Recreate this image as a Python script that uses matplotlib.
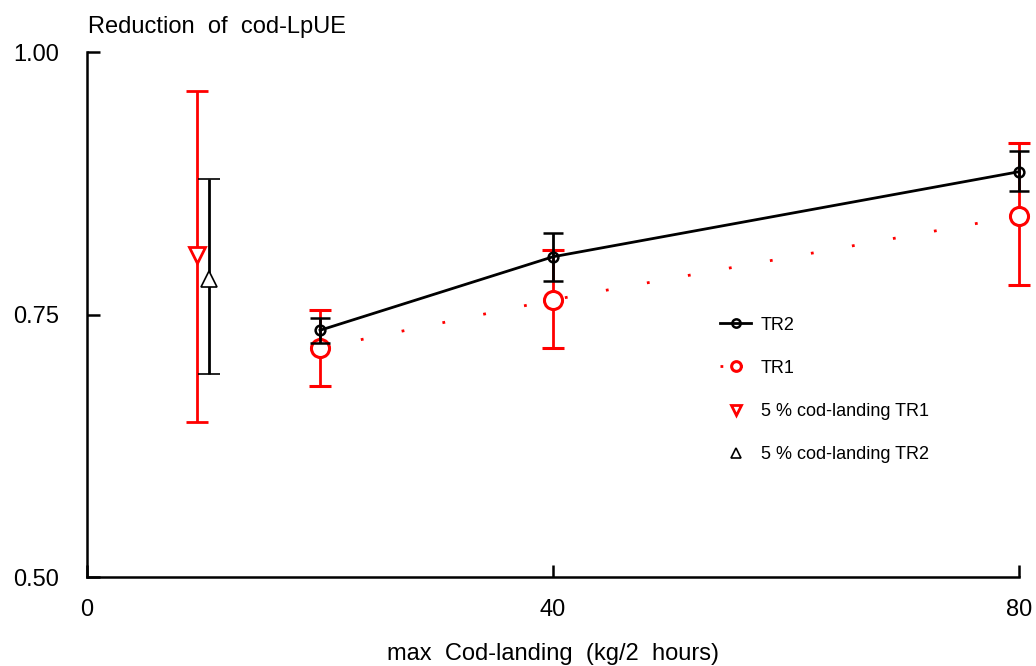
import matplotlib
matplotlib.use('Agg')
import matplotlib.pyplot as plt
from matplotlib.lines import Line2D

plt.rcParams['font.family'] = ['Liberation Sans', 'DejaVu Sans']

# data
landing = [20, 40, 80]
tr2 = [0.735, 0.805, 0.886]
tr2_lo = [0.723, 0.782, 0.868]
tr2_hi = [0.747, 0.828, 0.906]
tr1 = [0.718, 0.764, 0.844]
tr1_lo = [0.682, 0.718, 0.778]
tr1_hi = [0.754, 0.811, 0.913]

# 5 % cod-landing reference points (slightly offset on x)
x5_tr1 = [9.4]
y5_tr1 = [0.807]
y5_tr1_lo = [0.648]
y5_tr1_hi = [0.963]
x5_tr2 = [10.5]
y5_tr2 = [0.784]
y5_tr2_lo = [0.693]
y5_tr2_hi = [0.879]

xticks = [0, 40, 80]
yticks = [0.50, 0.75, 1.00]


def err(y, lo, hi):
    return [[a - b for a, b in zip(y, lo)], [b - a for a, b in zip(y, hi)]]


fig = plt.figure(figsize=(10.36, 6.66), dpi=100)
ax = fig.add_axes([0.084, 0.1336, 0.8996, 0.7883])

ax.errorbar(x5_tr1, y5_tr1, yerr=err(y5_tr1, y5_tr1_lo, y5_tr1_hi),
            fmt='v', color='red', mfc='white', mec='red', ms=11, mew=2,
            ecolor='red', elinewidth=2, capsize=8, capthick=2,
            clip_on=False, zorder=3)
ax.errorbar(x5_tr2, y5_tr2, yerr=err(y5_tr2, y5_tr2_lo, y5_tr2_hi),
            fmt='^', color='black', mfc='white', mec='black', ms=11, mew=1.2,
            ecolor='black', elinewidth=2, capsize=8, capthick=2,
            clip_on=False, zorder=3)

ax.errorbar(landing, tr2, yerr=err(tr2, tr2_lo, tr2_hi),
            fmt='-o', color='black', mfc='none', mec='black', ms=7, mew=1.8,
            lw=2, ecolor='black', elinewidth=2, capsize=7, capthick=2,
            clip_on=False, zorder=4)
ax.errorbar(landing, tr1, yerr=err(tr1, tr1_lo, tr1_hi),
            fmt='o', color='red', mfc='white', mec='red', ms=13, mew=2.2,
            ecolor='red', elinewidth=2, capsize=8, capthick=2,
            clip_on=False, zorder=3)
ax.plot(landing, tr1, color='red', lw=2, linestyle=(0, (1, 14)), zorder=2)

# legend proxies (markers only, like the reference)
h_tr2 = Line2D([], [], color='black', lw=2, marker='o', mfc='none',
               mec='black', ms=6, mew=1.8)
h_tr1 = Line2D([], [], color='red', lw=2, linestyle=(0, (1, 6)),
               marker='o', mfc='white', mec='red', ms=7, mew=2.2)
h_5tr1 = Line2D([], [], ls='none', marker='v', mfc='white', mec='red',
                ms=7, mew=2)
h_5tr2 = Line2D([], [], ls='none', marker='^', mfc='white', mec='black',
                ms=7, mew=1.2)
ax.legend([h_tr2, h_tr1, h_5tr1, h_5tr2],
          ['TR2', 'TR1', '5 % cod-landing TR1', '5 % cod-landing TR2'],
          loc='upper left', bbox_to_anchor=(0.662, 0.527),
          frameon=False, fontsize=13, labelspacing=1.45,
          handlelength=1.7, handletextpad=0.55)

ax.set_xlim(0, 80)
ax.set_ylim(0.5, 1.0)
ax.set_xticks(xticks)
ax.set_yticks(yticks)
ax.set_yticklabels(['%.2f' % v for v in yticks])
ax.tick_params(direction='in', length=9, width=1.8, labelsize=17)
ax.tick_params(axis='x', pad=16)
ax.tick_params(axis='y', pad=20)
for s in ['top', 'right']:
    ax.spines[s].set_visible(False)
for s in ['left', 'bottom']:
    ax.spines[s].set_linewidth(1.8)

ax.set_xlabel('max  Cod-landing  (kg/2  hours)', fontsize=17, labelpad=16)
fig.text(0.085, 0.96, 'Reduction  of  cod-LpUE', fontsize=17, ha='left', va='center')

fig.savefig('out.png', dpi=100)
